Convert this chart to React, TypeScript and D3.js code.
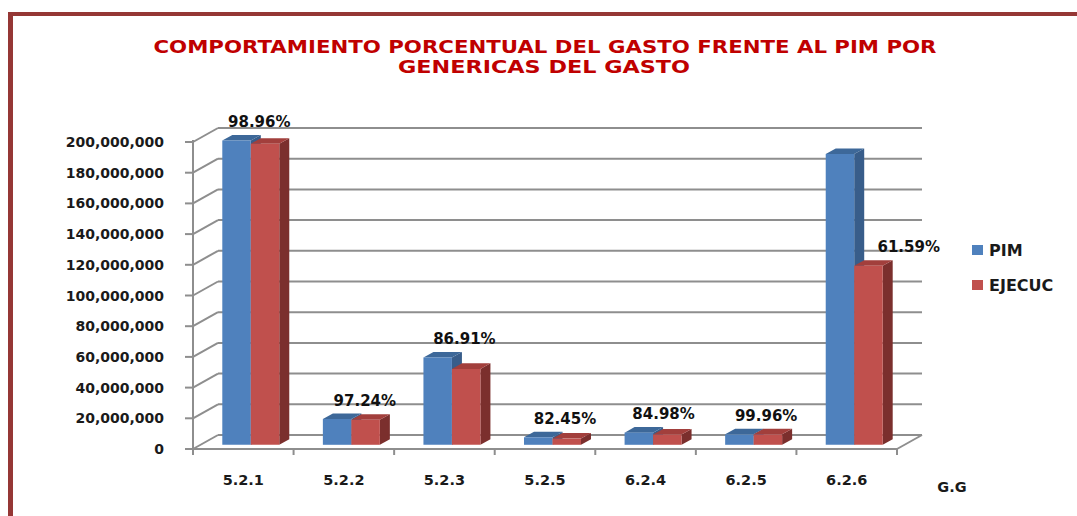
import * as d3 from "d3";
import { useEffect, useRef } from "react";

// generic spending groups
const categories = ["5.2.1", "5.2.2", "5.2.3", "5.2.5", "6.2.4", "6.2.5", "6.2.6"];
const series = ["PIM", "EJECUC"];
const pim = [198200000, 16800000, 56800000, 4900000, 7900000, 6800000, 189400000];
const ejecuc = [196100000, 16300000, 49400000, 4040000, 6710000, 6800000, 116600000];
const pctLabels = ["98.96%", "97.24%", "86.91%", "82.45%", "84.98%", "99.96%", "61.59%"];
const yTicks = [0, 20e6, 40e6, 60e6, 80e6, 100e6, 120e6, 140e6, 160e6, 180e6, 200e6];

const W = 1077;
const H = 516;
const DEPTH_X = 25;
const DEPTH_Y = -14;
const Z0 = 0.3;
const Z1 = 0.7;
// the last label was dragged next to the red bar in the original sheet
const LABEL_DX = [16, 21, 20, 20, 18, 20, 62];
const LABEL_ON_EJEC = [false, false, false, false, false, false, true];

const colors = {
  PIM: { front: "#4f81bd", side: "#385d8a", top: "#3d6899" },
  EJECUC: { front: "#c0504d", side: "#7b2f2d", top: "#a23f3c" },
};

const App = () => {
  const ref = useRef(null);

  useEffect(() => {
    document.body.style.margin = "0";
    const svg = d3.select(ref.current);
    svg.selectAll("*").remove();

    const font = "'DejaVu Sans', Verdana, sans-serif";
    const grid = "#8e8e8e";

    const x = d3.scaleBand().domain(categories).range([193, 897]);
    const xs = d3.scaleBand().domain(series).range([0, x.bandwidth()]).paddingOuter(0.765);
    const y = d3.scaleLinear().domain([0, 200e6]).range([449, 142]);

    const P = (px, py, z) => [px + z * DEPTH_X, py + z * DEPTH_Y];

    // frame
    svg.append("rect").attr("x", 8).attr("y", 12).attr("width", W).attr("height", 4).attr("fill", "#953735");
    svg.append("rect").attr("x", 8).attr("y", 12).attr("width", 5).attr("height", H).attr("fill", "#953735");

    // title
    const title = svg.append("g")
      .attr("fill", "#c00000")
      .attr("font-family", font)
      .attr("font-weight", "bold")
      .attr("font-size", 18)
      .attr("text-anchor", "middle");
    title.append("text").attr("x", 545).attr("y", 53)
      .attr("textLength", 783).attr("lengthAdjust", "spacingAndGlyphs")
      .text("COMPORTAMIENTO PORCENTUAL DEL GASTO FRENTE AL PIM POR");
    title.append("text").attr("x", 544).attr("y", 73)
      .attr("textLength", 292).attr("lengthAdjust", "spacingAndGlyphs")
      .text("GENERICAS DEL GASTO");

    const [x0, x1] = x.range();
    const walls = svg.append("g").attr("stroke", grid).attr("stroke-width", 2).attr("fill", "none");

    // back wall gridlines + left wall diagonals + y ticks
    yTicks.forEach((t) => {
      const a = P(x0, y(t), 0);
      const b = P(x0, y(t), 1);
      const c = P(x1, y(t), 1);
      walls.append("line").attr("x1", b[0]).attr("y1", b[1]).attr("x2", c[0]).attr("y2", c[1]);
      walls.append("line").attr("x1", a[0]).attr("y1", a[1]).attr("x2", b[0]).attr("y2", b[1]);
      walls.append("line").attr("x1", x0 - 8).attr("y1", y(t)).attr("x2", x0).attr("y2", y(t));
    });
    // y axis
    walls.append("line").attr("x1", x0).attr("y1", y(200e6) - 2).attr("x2", x0).attr("y2", y(0) + 5);
    // floor front + right edge
    walls.append("line").attr("x1", x0).attr("y1", y(0)).attr("x2", x1).attr("y2", y(0));
    const fr = P(x1, y(0), 1);
    walls.append("line").attr("x1", x1).attr("y1", y(0)).attr("x2", fr[0]).attr("y2", fr[1]);
    // x ticks
    [...categories.map((c) => x(c)), x1].forEach((px) => {
      walls.append("line").attr("x1", px).attr("y1", y(0)).attr("x2", px).attr("y2", y(0) + 6);
    });

    // y tick labels
    svg.append("g")
      .attr("font-family", font).attr("font-weight", "bold").attr("font-size", 14)
      .attr("text-anchor", "end").attr("fill", "#1a1a1a")
      .selectAll("text").data(yTicks).enter().append("text")
      .attr("x", 164).attr("y", (d) => y(d)).attr("dy", "0.36em")
      .text((d) => d3.format(",")(d));

    // bars
    const bars = svg.append("g");
    categories.forEach((cat, i) => {
      series.forEach((s) => {
        const v = s === "PIM" ? pim[i] : ejecuc[i];
        const bx0 = x(cat) + xs(s);
        const bx1 = bx0 + xs.bandwidth();
        const col = colors[s];
        const fbl = P(bx0, y(0), Z0);
        const ftl = P(bx0, y(v), Z0);
        const ftr = P(bx1, y(v), Z0);
        const fbr = P(bx1, y(0), Z0);
        const btl = P(bx0, y(v), Z1);
        const btr = P(bx1, y(v), Z1);
        const bbr = P(bx1, y(0), Z1);
        const poly = (pts, fill) => bars.append("polygon")
          .attr("points", pts.map((p) => p.join(",")).join(" "))
          .attr("fill", fill);
        poly([fbr, bbr, btr, ftr], col.side);
        poly([ftl, ftr, btr, btl], col.top);
        poly([fbl, ftl, ftr, fbr], col.front);
      });
    });

    // percentage labels
    svg.append("g")
      .attr("font-family", font).attr("font-weight", "bold").attr("font-size", 15)
      .attr("text-anchor", "middle").attr("fill", "#111")
      .selectAll("text").data(pctLabels).enter().append("text")
      .attr("x", (d, i) => x(categories[i]) + x.bandwidth() / 2 + LABEL_DX[i])
      .attr("y", (d, i) => y(LABEL_ON_EJEC[i] ? ejecuc[i] : Math.max(pim[i], ejecuc[i])) - 23)
      .attr("dy", "0.36em")
      .text((d) => d);

    // x labels
    svg.append("g")
      .attr("font-family", font).attr("font-weight", "bold").attr("font-size", 14.5)
      .attr("text-anchor", "middle").attr("fill", "#1a1a1a")
      .selectAll("text").data(categories).enter().append("text")
      .attr("x", (d) => x(d) + x.bandwidth() / 2).attr("y", 480).attr("dy", "0.36em")
      .text((d) => d);
    svg.append("text")
      .attr("x", 952).attr("y", 487).attr("dy", "0.36em")
      .attr("font-family", font).attr("font-weight", "bold").attr("font-size", 14.5)
      .attr("text-anchor", "middle").attr("fill", "#1a1a1a")
      .text("G.G");

    // legend
    const legend = svg.append("g").attr("transform", "translate(972, 245)");
    series.forEach((s, i) => {
      const g = legend.append("g").attr("transform", `translate(0, ${i * 35})`);
      g.append("rect").attr("width", 11).attr("height", 10).attr("fill", colors[s].front);
      g.append("text").attr("x", 17).attr("y", 5).attr("dy", "0.36em")
        .attr("font-family", font).attr("font-weight", "bold").attr("font-size", 16)
        .attr("fill", "#1a1a1a").text(s);
    });
  }, []);

  return (
    <div style={{ position: "absolute", left: 0, top: 0 }}>
      <svg ref={ref} width={W} height={H} style={{ display: "block", background: "#fff" }} />
    </div>
  );
};

export default App;
